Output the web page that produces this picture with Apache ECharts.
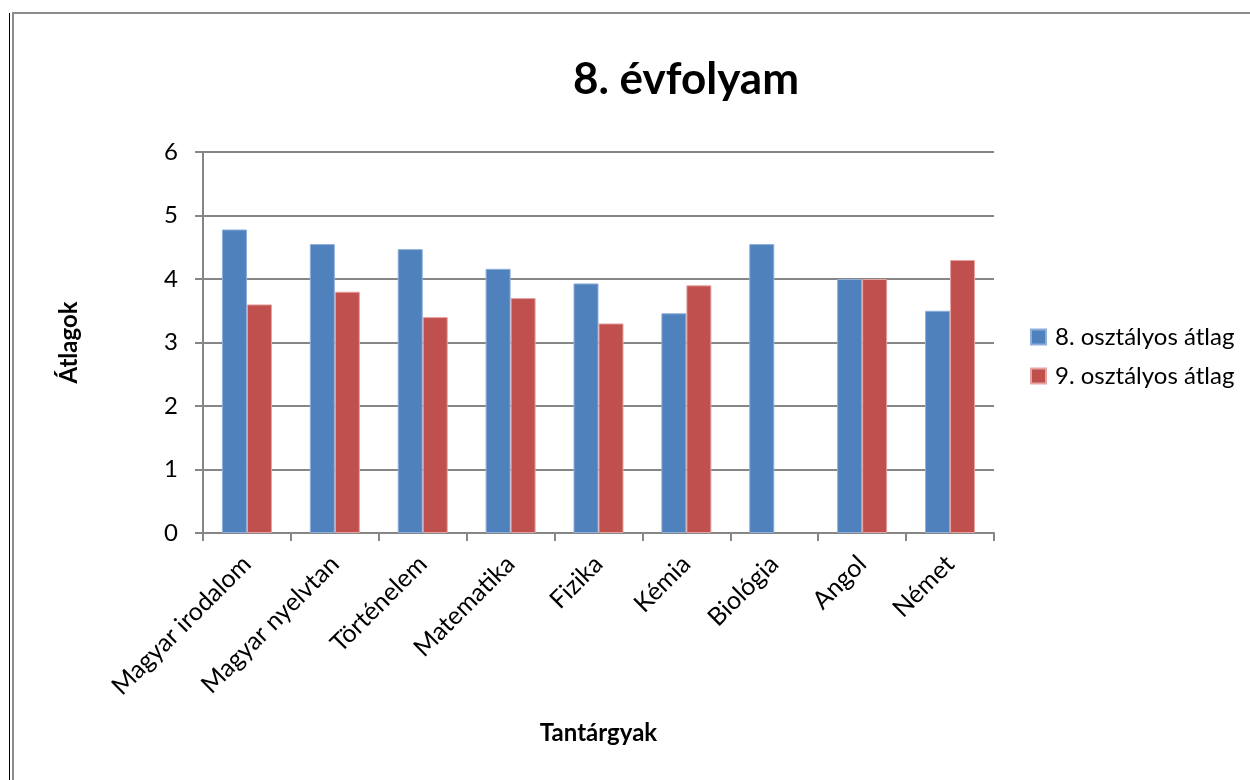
<!DOCTYPE html>
<html>
<head>
<meta charset="utf-8">
<script src="https://cdn.jsdelivr.net/npm/echarts@6/dist/echarts.min.js"></script>
<style>
  html, body { margin: 0; padding: 0; background: #fff; }
  #frame { position: absolute; left: 9px; top: 13px; width: 1241px; height: 767px; border-left: 1px solid #000; }
  #chart { position: absolute; left: 12px; top: 12px; width: 1238px; height: 768px; border-left: 2px solid #8c8c8c; border-top: 2px solid #8c8c8c; box-sizing: border-box; }
</style>
</head>
<body>
<div id="frame"></div>
<div id="chart"></div>
<script>
const subjects = ['Magyar irodalom', 'Magyar nyelvtan', 'Történelem', 'Matematika', 'Fizika', 'Kémia', 'Biológia', 'Angol', 'Német'];
const grade8 = [4.78, 4.55, 4.47, 4.16, 3.93, 3.46, 4.55, 4.0, 3.5];
const grade9 = [3.6, 3.8, 3.4, 3.7, 3.3, 3.9, null, 4.0, 4.3];

const font = 'Lato, "Open Sans", sans-serif';
const chart = echarts.init(document.getElementById('chart'));

chart.setOption({
  animation: false,
  color: ['#4f81bd', '#c0504d'],
  textStyle: { fontFamily: font, color: '#000' },
  title: {
    text: '8. évfolyam',
    left: 679 - 12,
    top: 39,
    textAlign: 'center',
    textStyle: { fontFamily: font, fontSize: 44, fontWeight: 'bold', color: '#000' }
  },
  legend: {
    orient: 'vertical',
    left: 1011,
    top: 306,
    itemWidth: 15,
    itemHeight: 15,
    itemGap: 15,
    icon: 'rect',
    textStyle: { fontFamily: font, fontSize: 24, color: '#000', padding: [0, 0, 0, 4] },
    data: ['8. osztályos átlag', '9. osztályos átlag']
  },
  grid: { left: 189, right: 256, top: 138, bottom: 247, containLabel: false },
  xAxis: {
    type: 'category',
    data: subjects,
    name: 'Tantárgyak',
    nameLocation: 'middle',
    nameGap: 188,
    nameTextStyle: { fontFamily: font, fontSize: 24, fontWeight: 'bold', color: '#000' },
    axisLine: { lineStyle: { color: '#868686', width: 2 } },
    axisTick: { show: true, length: 8, alignWithLabel: false, lineStyle: { color: '#868686', width: 2 } },
    axisLabel: { rotate: 45, fontSize: 25, color: '#000', margin: 27, fontFamily: font, interval: 0 }
  },
  yAxis: {
    type: 'value',
    min: 0,
    max: 6,
    interval: 1,
    name: 'Átlagok',
    nameLocation: 'middle',
    nameGap: 122,
    nameRotate: 90,
    nameTextStyle: { fontFamily: font, fontSize: 24, fontWeight: 'bold', color: '#000' },
    axisLine: { show: true, lineStyle: { color: '#868686', width: 2 } },
    axisTick: { show: true, length: 8, lineStyle: { color: '#868686', width: 2 } },
    axisLabel: { fontSize: 24, color: '#000', margin: 25, fontFamily: font },
    splitLine: { lineStyle: { color: '#868686', width: 2 } }
  },
  series: [
    {
      name: '8. osztályos átlag',
      type: 'bar',
      data: grade8,
      barWidth: 25,
      barGap: '0%',
      itemStyle: { borderColor: '#8eaedb', borderWidth: 1 }
    },
    {
      name: '9. osztályos átlag',
      type: 'bar',
      data: grade9,
      barWidth: 25,
      itemStyle: { borderColor: '#e5a3a1', borderWidth: 1 }
    }
  ]
});
</script>
</body>
</html>
